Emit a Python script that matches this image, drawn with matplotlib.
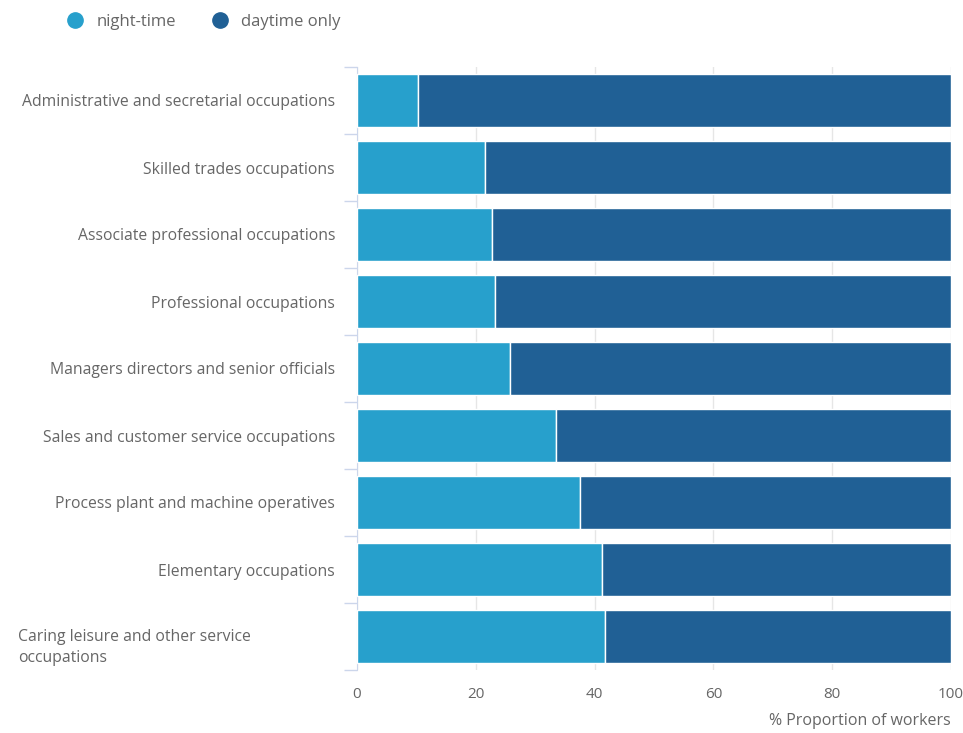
import matplotlib
matplotlib.use("Agg")
import matplotlib.pyplot as plt
from matplotlib.lines import Line2D
import numpy as np

categories = [
    "Administrative and secretarial occupations",
    "Skilled trades occupations",
    "Associate professional occupations",
    "Professional occupations",
    "Managers directors and senior officials",
    "Sales and customer service occupations",
    "Process plant and machine operatives",
    "Elementary occupations",
    "Caring leisure and other service\noccupations",
]
night_time = [10.3, 21.5, 22.7, 23.3, 25.8, 33.5, 37.6, 41.3, 41.8]
daytime_only = [100 - v for v in night_time]
x_ticks = [0, 20, 40, 60, 80, 100]

c_night = "#27a0cc"
c_day = "#206095"
txt = "#666666"
plt.rcParams["font.family"] = ["Open Sans", "DejaVu Sans"]

fig = plt.figure(figsize=(9.63, 7.33), dpi=100)
ax = fig.add_axes([357/963, 1-670/733, (951-357)/963, (670-67)/733])

y = np.arange(len(categories))
ax.barh(y, night_time, height=0.8, color=c_night, edgecolor="white", linewidth=1, zorder=3)
ax.barh(y, daytime_only, left=night_time, height=0.8, color=c_day, edgecolor="white", linewidth=1, zorder=3)

ax.set_xlim(0, 100)
ax.set_ylim(len(categories) - 0.5, -0.5)
ax.set_xticks(x_ticks)
ax.set_xticklabels([str(t) for t in x_ticks], color=txt, fontsize=11)
ax.tick_params(axis="x", length=0, pad=12)
ax.grid(axis="x", color="#e6e6e6", linewidth=1, zorder=0)

# single-line labels as tick labels, wrapped label drawn left-aligned like the reference
lab_fs = 11.3
ax.set_yticks(y)
ax.set_yticklabels([c if "\n" not in c else "" for c in categories], color=txt, fontsize=lab_fs)
ax.tick_params(axis="y", length=0, pad=22 * 0.72)
for i, c in enumerate(categories):
    if "\n" in c:
        ax.annotate(c, xy=(0, y[i]), xycoords="data", xytext=(-339 * 0.72, -8),
                    textcoords="offset points", ha="left", va="center",
                    fontsize=lab_fs, color=txt, linespacing=1.4)

ax.set_yticks(np.arange(-0.5, len(categories), 1), minor=True)
ax.tick_params(axis="y", which="minor", length=13 * 0.72, color="#ccd6eb", width=1)

for s in ["top", "right", "bottom"]:
    ax.spines[s].set_visible(False)
ax.spines["left"].set_color("#ccd6eb")

ax.set_xlabel("% Proportion of workers", color=txt, fontsize=11.5, loc="right", labelpad=8)

handles = [
    Line2D([], [], marker="o", linestyle="none", markersize=11, color=c_night, label="night-time"),
    Line2D([], [], marker="o", linestyle="none", markersize=11, color=c_day, label="daytime only"),
]
leg = fig.legend(handles=handles, loc="upper left", bbox_to_anchor=(50/963, 1 + 1/733), ncol=2,
                 frameon=False, fontsize=12, handletextpad=0.7, columnspacing=2.0, handlelength=1.2)
for t in leg.get_texts():
    t.set_color(txt)

fig.savefig("out.png", dpi=100)
